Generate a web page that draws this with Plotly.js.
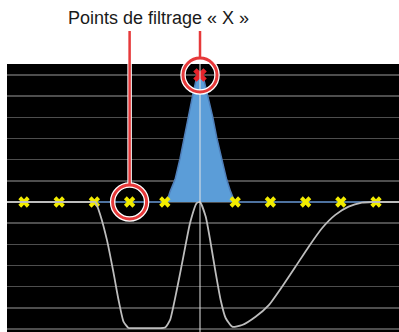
<!DOCTYPE html>
<html>
<head>
<meta charset="utf-8">
<script src="https://cdn.plot.ly/plotly-3.0.1.min.js"></script>
<style>html,body{margin:0;padding:0;background:#fff;}#chart{width:399px;height:332px;}</style>
</head>
<body>
<div id="chart"></div>
<script>
// Filter response (blue area)
var blueX = [-5.5, -0.945, -0.85, -0.708, -0.567, -0.453, -0.331, -0.207, -0.113, 0, 0.113, 0.218, 0.36, 0.473, 0.615, 0.756, 0.87, 0.99, 5.7];
var blueY = [0, 0, 0.49, 1.07, 2.06, 3.06, 4.03, 5.05, 5.76, 6.0, 5.76, 5.05, 4.03, 3.06, 2.06, 1.07, 0.49, 0, 0];

// Grey curve
var greyX = [-5.5, -4.5, -3.5, -3.1, -2.975, -2.833, -2.643, -2.456, -2.314, -2.173, -2.031, -1.85, -1.5, -1.15, -0.99, -0.85, -0.66, -0.473, -0.283, -0.093, 0,
             0.161, 0.303, 0.445, 0.586, 0.728, 0.915, 1.198, 1.578, 1.955, 2.331, 2.711, 3.088, 3.465, 3.844, 4.221, 4.598, 4.88, 5.1, 5.7];
var greyY = [0, 0, 0, 0, 0, -0.61, -1.80, -3.35, -4.63, -5.65, -5.95, -5.96, -5.96, -5.96, -5.93, -5.57, -4.16, -2.58, -0.99, -0.05, 0,
             -0.69, -1.94, -3.35, -4.63, -5.48, -5.89, -5.81, -5.42, -4.87, -4.0, -3.06, -2.11, -1.24, -0.61, -0.22, -0.03, 0, 0, 0];

// Filtering points
var pointsX = [-5, -4, -3, -2, -1, 1, 2, 3, 4, 5];
var pointsY = [0, 0, 0, 0, 0, 0, 0, 0, 0, 0];
var peakX = [0];
var peakY = [6];

var annotText = 'Points de filtrage « X »';
var circledX = [-2, 0];
var circledY = [0, 6];

var xr = [-5.483, 5.653];
var yr = [-6.141, 6.519];
var W = 399, H = 332, ml = 7, mr = 0, mt = 64, mb = 0;
var pw = W - ml - mr, ph = H - mt - mb;
function px2paperX(p) { return (p - ml) / pw; }
function px2paperY(p) { return (H - mb - p) / ph; }
function d2paperX(v) { return (v - xr[0]) / (xr[1] - xr[0]); }
function d2paperY(v) { return (v - yr[0]) / (yr[1] - yr[0]); }
function d2pxY(v) { return H - mb - d2paperY(v) * ph; }

var red = '#e6393a';
var R = 17;
var lineTopPx = 31;

var shapes = [{
  type: 'line', xref: 'x', yref: 'paper', x0: 0, x1: 0, y0: 0, y1: 1,
  line: {color: '#e6e6e6', width: 1}, layer: 'above'
}];
for (var i = 0; i < circledX.length; i++) {
  var ax = d2paperX(circledX[i]), ay = d2paperY(circledY[i]);
  var lineLen = d2pxY(circledY[i]) - lineTopPx;
  [{c: '#ffffff', w: 5.5, lw: 4.5}, {c: red, w: 3, lw: 2.5}].forEach(function (s) {
    shapes.push({type: 'line', xref: 'paper', yref: 'paper', xsizemode: 'pixel', ysizemode: 'pixel',
      xanchor: ax, yanchor: ay, x0: 0, x1: 0, y0: R, y1: lineLen,
      line: {color: s.c, width: s.lw}, layer: 'above'});
    shapes.push({type: 'circle', xref: 'paper', yref: 'paper', xsizemode: 'pixel', ysizemode: 'pixel',
      xanchor: ax, yanchor: ay, x0: -R, x1: R, y0: -R, y1: R,
      line: {color: s.c, width: s.w}, layer: 'above'});
  });
}

var traces = [
  {x: blueX, y: blueY, type: 'scatter', mode: 'lines', fill: 'tozeroy',
   fillcolor: '#5b9dd8', line: {color: '#4f7fba', width: 1.5}, hoverinfo: 'skip'},
  {x: pointsX, y: pointsY, type: 'scatter', mode: 'markers',
   marker: {symbol: 'x', size: 10, color: '#f2ec00', line: {width: 0}}, hoverinfo: 'skip'},
  {x: greyX, y: greyY, type: 'scatter', mode: 'lines',
   line: {color: '#bdbdbd', width: 1.8, shape: 'spline', smoothing: 0.5}, hoverinfo: 'skip'},
  {x: peakX, y: peakY, type: 'scatter', mode: 'markers',
   marker: {symbol: 'x', size: 12, color: '#e8232b', line: {width: 0}}, hoverinfo: 'skip'}
];

var layout = {
  width: W, height: H,
  margin: {l: ml, r: mr, t: mt, b: mb, pad: 0},
  paper_bgcolor: '#ffffff', plot_bgcolor: '#000000',
  showlegend: false,
  font: {family: 'Liberation Sans, Arial, sans-serif'},
  xaxis: {range: xr, showgrid: false, zeroline: false, showticklabels: false, ticks: '', showline: false, fixedrange: true},
  yaxis: {range: yr, dtick: 1, tick0: 0, showgrid: true, gridcolor: '#4e4e4e', gridwidth: 1.5,
          zeroline: false, showticklabels: false, ticks: '', showline: false, fixedrange: true},
  shapes: shapes,
  annotations: [{
    text: annotText, xref: 'paper', yref: 'paper',
    x: px2paperX(158.5), y: px2paperY(17.5), xanchor: 'center', yanchor: 'middle',
    showarrow: false, font: {size: 18, color: '#1a1a1a', family: 'Liberation Sans, Arial, sans-serif'}
  }]
};

Plotly.newPlot('chart', traces, layout, {staticPlot: true, displayModeBar: false});
</script>
</body>
</html>
